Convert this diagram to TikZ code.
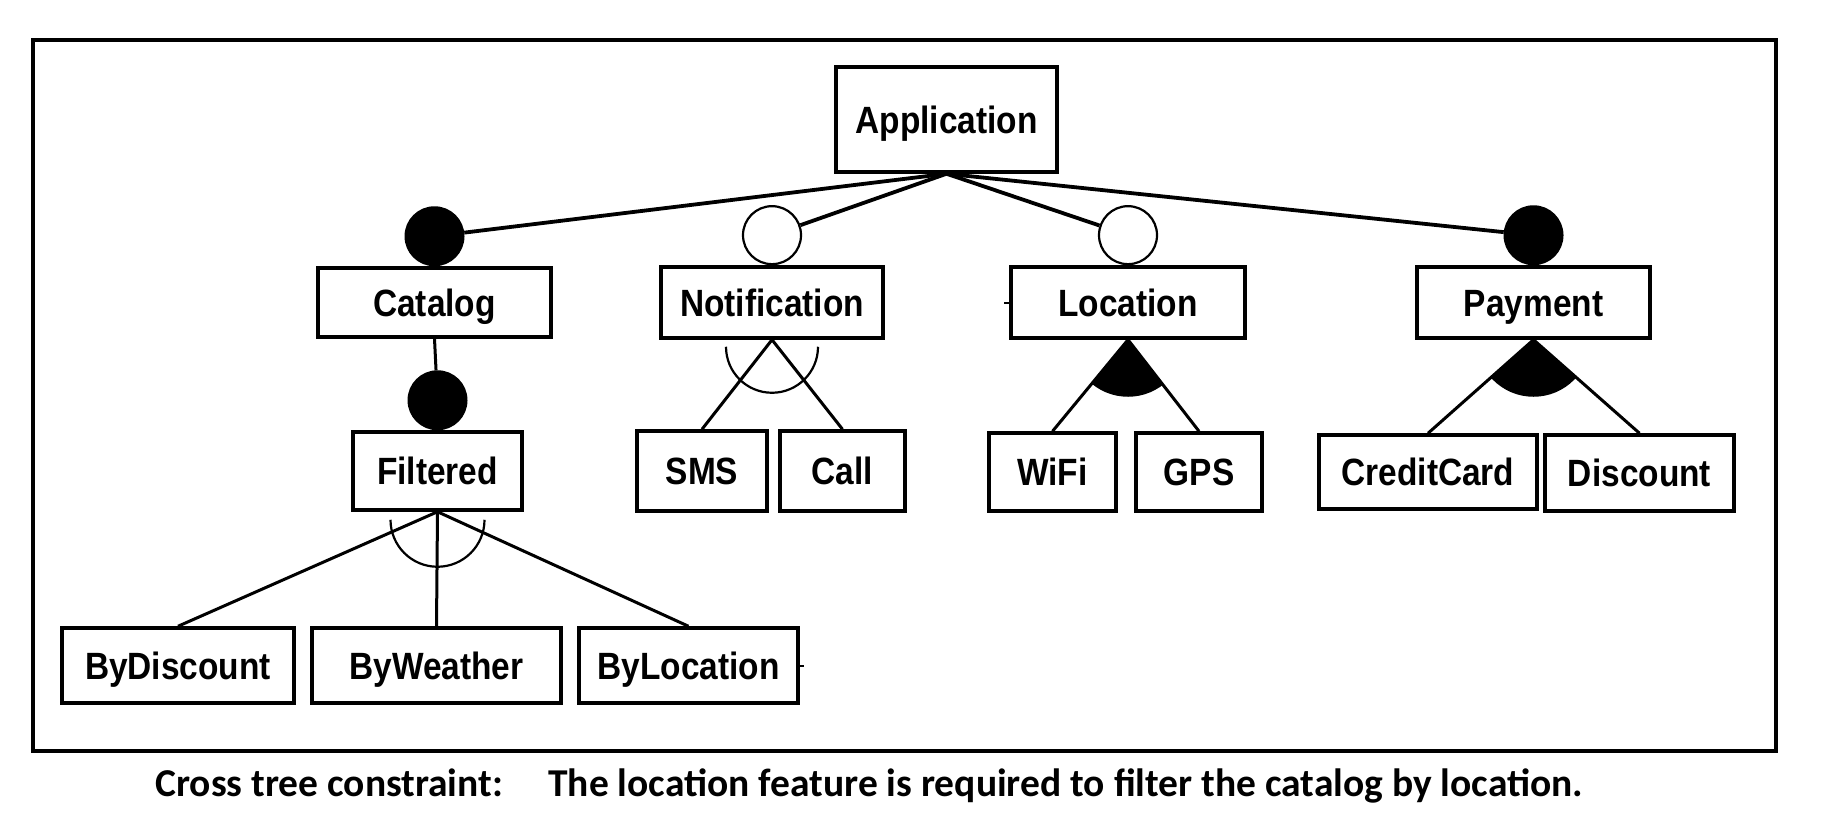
\documentclass[tikz,border=0pt]{standalone}
\usepackage{fontspec}
\usetikzlibrary{calc}
\newfontfamily\lblfont[FakeStretch=0.88]{Liberation Sans}
\newfontfamily\capfont{Carlito}
\tikzset{
  feat/.style={draw, line width=1.75pt, inner sep=0pt, align=center,
    text height=17.6pt, text depth=4pt,
    font=\lblfont\bfseries\fontsize{19pt}{22pt}\selectfont},
  mand/.style={circle, fill=black, draw, line width=1pt, minimum size=29pt, inner sep=0pt, anchor=south},
  opt/.style={circle, fill=white, draw, line width=1.1pt, minimum size=29pt, inner sep=0pt, anchor=south},
  conn/.style={line width=1.9pt},
  thinconn/.style={line width=1.5pt},
  grparc/.style={line width=1.1pt},
  captxt/.style={anchor=base west, inner sep=0pt, font=\capfont\bfseries\fontsize{19.75pt}{23pt}\selectfont}
}
\begin{document}
\begin{tikzpicture}[x=0.5pt, y=-0.5pt]
\useasboundingbox[fill=white] (0,0) rectangle (1824,826);
\draw[line width=2pt] (33,40) rectangle (1776,751);

% features
\node[feat, minimum width=110.5pt, minimum height=52.5pt] (app) at (946.5,119.5) {Application};
\node[feat, minimum width=116.5pt, minimum height=34.5pt] (cat) at (434.5,302.5) {Catalog};
\node[feat, minimum width=111pt, minimum height=35.5pt] (notif) at (772,302.5) {Notification};
\node[feat, minimum width=117pt, minimum height=35.5pt] (loc) at (1128,302.5) {Location};
\node[feat, minimum width=116.5pt, minimum height=35.5pt] (pay) at (1533.5,302.5) {Payment};
\node[feat, minimum width=84.5pt, minimum height=39pt] (filt) at (437.5,471) {Filtered};
\node[feat, minimum width=65pt, minimum height=40pt] (sms) at (702,471) {SMS};
\node[feat, minimum width=62.5pt, minimum height=40pt] (call) at (842.5,471) {Call};
\node[feat, minimum width=63.5pt, minimum height=39pt] (wifi) at (1052.5,472) {WiFi};
\node[feat, minimum width=63pt, minimum height=39pt] (gps) at (1199,472) {GPS};
\node[feat, minimum width=109pt, minimum height=37pt] (cc) at (1428,472) {CreditCard};
\node[feat, minimum width=94.5pt, minimum height=38pt] (disc) at (1639.5,473) {Discount};
\node[feat, minimum width=116pt, minimum height=37.5pt] (bydisc) at (178,665.5) {ByDiscount};
\node[feat, minimum width=124.5pt, minimum height=37.5pt] (byweather) at (436.5,665.5) {ByWeather};
\node[feat, minimum width=109.5pt, minimum height=37.5pt] (byloc) at (688.5,665.5) {ByLocation};

% mandatory / optional markers
\node[mand] (catm) at (cat.north) {};
\node[opt] (notifm) at (notif.north) {};
\node[opt] (locm) at (loc.north) {};
\node[mand] (paym) at (pay.north) {};
\node[mand] (filtm) at (filt.north) {};

% connectors from root
\draw[conn] (app.south) -- (catm);
\draw[conn] (app.south) -- (notifm);
\draw[conn] (app.south) -- (locm);
\draw[conn] (app.south) -- (paym);
\draw[thinconn] (cat.south) -- (filtm);

% alternative groups
\draw[thinconn] (notif.south) -- (sms.north);
\draw[thinconn] (notif.south) -- (call.north);
\draw[grparc] ($(notif.south)+(46,7)$) arc[start angle=0, end angle=180, radius=46];

\draw[thinconn] (filt.south) -- (bydisc.north);
\draw[thinconn] (filt.south) -- (byweather.north);
\draw[thinconn] (filt.south) -- (byloc.north);
\draw[grparc] ($(filt.south)+(47,8)$) arc[start angle=0, end angle=180, radius=47];

% or groups
\begin{scope}
  \clip (loc.south) -- (wifi.north) -- (gps.north) -- cycle;
  \fill (loc.south) circle[radius=57];
\end{scope}
\draw[thinconn] (loc.south) -- (wifi.north);
\draw[thinconn] (loc.south) -- (gps.north);

\begin{scope}
  \clip (pay.south) -- (cc.north) -- (disc.north) -- cycle;
  \fill (pay.south) circle[radius=57];
\end{scope}
\draw[thinconn] (pay.south) -- (cc.north);
\draw[thinconn] (pay.south) -- (disc.north);

% small residual marks
\draw[line width=1pt] (loc.west) -- ++(-5,0);
\draw[line width=1pt] (byloc.east) -- ++(4,0);

% caption
\node[captxt] (cap1) at (155,796) {Cross tree constraint:};
\node[captxt] (cap2) at (548,796) {The location feature is required to filter the catalog by location.};
\end{tikzpicture}
\end{document}
